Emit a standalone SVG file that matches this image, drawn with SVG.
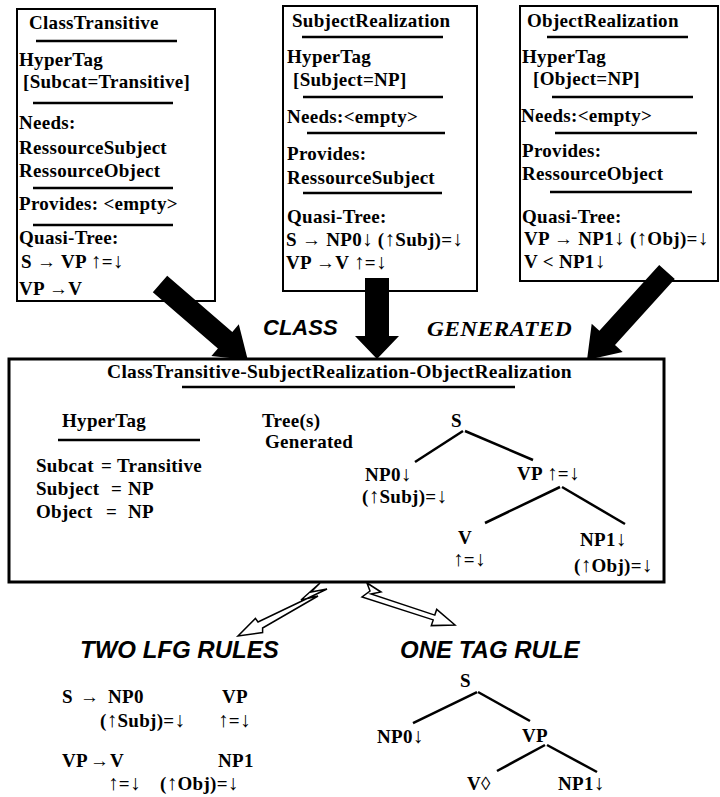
<svg xmlns="http://www.w3.org/2000/svg" width="720" height="797" viewBox="0 0 720 797">
<style>
text{font-family:"Liberation Serif","Times New Roman",serif;font-weight:bold;font-size:19px;letter-spacing:0.3px;fill:#000}
.a{font-size:21px}
.box{fill:none;stroke:#000;stroke-width:2}
.box3{fill:none;stroke:#000;stroke-width:3}
.ul{stroke:#000;stroke-width:2.5}
.edge{stroke:#000;stroke-width:2.5;fill:none}
.sans{font-family:"Liberation Sans",Arial,sans-serif;font-style:italic;font-size:22px;letter-spacing:0}
.big{font-size:24px}
.ital{font-style:italic;font-size:22px}
.bolt{fill:#fff;stroke:#000;stroke-width:1.5;stroke-linejoin:miter}
.arrow{fill:#000;stroke:none}
</style>
<rect width="720" height="797" fill="#fff"/>

<g id="classTransitive">
<rect class="box" x="17" y="9" width="198" height="292"/>
<text x="29" y="29">ClassTransitive</text>
<line class="ul" x1="36" y1="41" x2="177" y2="41"/>
<text x="19" y="66">HyperTag</text>
<text x="23" y="88">[Subcat=Transitive]</text>
<line class="ul" x1="33" y1="103" x2="173" y2="103"/>
<text x="19" y="129">Needs:</text>
<text x="19" y="154">RessourceSubject</text>
<text x="19" y="177">RessourceObject</text>
<line class="ul" x1="33" y1="188" x2="173" y2="188"/>
<text x="19" y="210">Provides: &lt;empty&gt;</text>
<line class="ul" x1="33" y1="225" x2="173" y2="225"/>
<text x="19" y="244">Quasi-Tree:</text>
<text x="21" y="268">S → VP <tspan class="a">↑</tspan>=<tspan class="a">↓</tspan></text>
<text x="19" y="295">VP →V</text>
</g>

<g id="subjectRealization">
<rect class="box" x="283" y="6" width="194" height="285"/>
<text x="292" y="27">SubjectRealization</text>
<line class="ul" x1="302" y1="37" x2="443" y2="37"/>
<text x="287" y="63">HyperTag</text>
<text x="293" y="86">[Subject=NP]</text>
<line class="ul" x1="303" y1="97" x2="443" y2="97"/>
<text x="287" y="123">Needs:&lt;empty&gt;</text>
<line class="ul" x1="307" y1="133" x2="445" y2="133"/>
<text x="287" y="160">Provides:</text>
<text x="287" y="184">RessourceSubject</text>
<line class="ul" x1="303" y1="193" x2="442" y2="193"/>
<text x="287" y="223">Quasi-Tree:</text>
<text x="286" y="246">S → NP0<tspan class="a">↓</tspan> (<tspan class="a">↑</tspan>Subj)=<tspan class="a">↓</tspan></text>
<text x="286" y="269">VP →V  <tspan class="a">↑</tspan>=<tspan class="a">↓</tspan></text>
</g>

<g id="objectRealization">
<rect class="box" x="520" y="6" width="198" height="275"/>
<text x="527" y="27">ObjectRealization</text>
<line class="ul" x1="547" y1="37" x2="688" y2="37"/>
<text x="522" y="63">HyperTag</text>
<text x="533" y="85">[Object=NP]</text>
<line class="ul" x1="552" y1="97" x2="693" y2="97"/>
<text x="521" y="122">Needs:&lt;empty&gt;</text>
<line class="ul" x1="555" y1="133" x2="697" y2="133"/>
<text x="522" y="157">Provides:</text>
<text x="522" y="180">RessourceObject</text>
<line class="ul" x1="550" y1="192" x2="692" y2="192"/>
<text x="522" y="223">Quasi-Tree:</text>
<text x="524" y="245">VP → NP1<tspan class="a">↓</tspan> (<tspan class="a">↑</tspan>Obj)=<tspan class="a">↓</tspan></text>
<text x="524" y="268">V &lt; NP1<tspan class="a">↓</tspan></text>
</g>

<g id="labels-class-generated">
<text class="sans" x="263" y="335">CLASS</text>
<text class="ital" x="427" y="336" textLength="145" lengthAdjust="spacingAndGlyphs">GENERATED</text>
</g>

<g id="generatedClass">
<rect class="box3" x="9" y="359" width="655" height="223"/>
<text x="107" y="378" textLength="465" lengthAdjust="spacingAndGlyphs">ClassTransitive-SubjectRealization-ObjectRealization</text>
<line class="ul" x1="182" y1="387" x2="515" y2="387"/>
<text x="62" y="427">HyperTag</text>
<line class="ul" x1="58" y1="440" x2="200" y2="440"/>
<text x="36" y="472">Subcat<tspan x="101">=</tspan><tspan x="117">Transitive</tspan></text>
<text x="36" y="495">Subject<tspan x="111">=</tspan><tspan x="128">NP</tspan></text>
<text x="36" y="518">Object<tspan x="106">=</tspan><tspan x="128">NP</tspan></text>
<text x="262" y="427">Tree(s)</text>
<text x="265" y="448">Generated</text>
<text x="451" y="427">S</text>
<line class="edge" x1="463" y1="431" x2="415" y2="462"/>
<line class="edge" x1="465" y1="431" x2="533" y2="460"/>
<text x="365" y="481">NP0<tspan class="a">↓</tspan></text>
<text x="362" y="503">(<tspan class="a">↑</tspan>Subj)=<tspan class="a">↓</tspan></text>
<text x="517" y="480">VP  <tspan class="a">↑</tspan>=<tspan class="a">↓</tspan></text>
<line class="edge" x1="560" y1="487" x2="485" y2="523"/>
<line class="edge" x1="562" y1="487" x2="625" y2="524"/>
<text x="458" y="544">V</text>
<text x="453" y="566"><tspan class="a">↑</tspan>=<tspan class="a">↓</tspan></text>
<text x="580" y="546">NP1<tspan class="a">↓</tspan></text>
<text x="574" y="572">(<tspan class="a">↑</tspan>Obj)=<tspan class="a">↓</tspan></text>
</g>

<g id="lfgRules">
<text class="sans big" x="80" y="658">TWO LFG RULES</text>
<text x="62" y="703">S</text>
<text x="80" y="703">→</text>
<text x="108" y="703">NP0</text>
<text x="222" y="703">VP</text>
<text x="100" y="727">(<tspan class="a">↑</tspan>Subj)=<tspan class="a">↓</tspan></text>
<text x="218" y="727"><tspan class="a">↑</tspan>=<tspan class="a">↓</tspan></text>
<text x="62" y="767">VP</text>
<text x="90" y="767">→</text>
<text x="110" y="767">V</text>
<text x="218" y="767">NP1</text>
<text x="108" y="790"><tspan class="a">↑</tspan>=<tspan class="a">↓</tspan></text>
<text x="160" y="790">(<tspan class="a">↑</tspan>Obj)=<tspan class="a">↓</tspan></text>
</g>

<g id="tagRule">
<text class="sans big" x="400" y="658">ONE TAG RULE</text>
<text x="460" y="687">S</text>
<line class="edge" x1="477" y1="692" x2="413" y2="723"/>
<line class="edge" x1="478" y1="692" x2="530" y2="721"/>
<text x="377" y="743">NP0<tspan class="a">↓</tspan></text>
<text x="522" y="742">VP</text>
<line class="edge" x1="545" y1="745" x2="497" y2="771"/>
<line class="edge" x1="547" y1="745" x2="597" y2="772"/>
<text x="467" y="790">V◊</text>
<text x="558" y="790">NP1<tspan class="a">↓</tspan></text>
</g>

<g id="connectors">
<polygon class="arrow" points="167.2,275.7 232.3,331.9 238.8,324.3 247.8,359.9 211.4,356.1 217.9,348.5 152.8,292.3"/>
<polygon class="arrow" points="365,278 389,278 389,336 399,336 377,359 355,336 365,336"/>
<polygon class="arrow" points="674.8,279.1 615,345 622.7,352 587,360 591.7,323.8 599.4,330.8 659.2,264.9"/>
<polygon class="bolt" points="320,583 301,600 318,596 262.6,628 262.6,632.6 238,636 255.4,618.4 258,622 327,589 311,592"/>
<polygon class="bolt" points="367,583 381,592 371,594 434.8,615.1 436.7,609.4 455,625 431.3,625.6 433.2,619.9 362,597 370,591"/>
</g>
</svg>
